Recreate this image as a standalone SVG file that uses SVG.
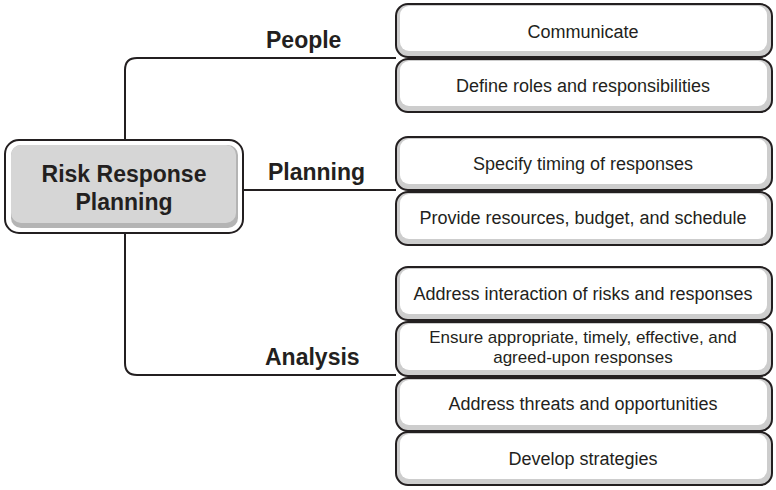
<svg xmlns="http://www.w3.org/2000/svg" width="776" height="490" viewBox="0 0 776 490">
<style>
.bg{fill:#ffffff}
.conn{fill:none;stroke:#231f20;stroke-width:2}
.bo{fill:#cdcdcd;stroke:#231f20;stroke-width:2}
.bi{fill:#ffffff}
.t{font-family:"Liberation Sans",Arial,sans-serif;font-size:18px;fill:#231f20;text-anchor:middle}
.t2{font-family:"Liberation Sans",Arial,sans-serif;font-size:17px;fill:#231f20;text-anchor:middle}
.lbl{font-family:"Liberation Sans",Arial,sans-serif;font-size:23px;font-weight:bold;fill:#231f20}
.ct{font-family:"Liberation Sans",Arial,sans-serif;font-size:23px;font-weight:bold;fill:#231f20;text-anchor:middle}
</style>
<rect class="bg" x="0" y="0" width="776" height="490"/>
<g id="connectors">
<path class="conn" d="M125,140 V70 Q125,58 137,58 H396"/>
<path class="conn" d="M243,190 H396"/>
<path class="conn" d="M125,233 V363 Q125,375 137,375 H396"/>
</g>
<g id="labels">
<text class="lbl" x="266" y="48">People</text>
<text class="lbl" x="268" y="180">Planning</text>
<text class="lbl" x="265" y="365">Analysis</text>
</g>
<g id="center">
<rect x="5" y="140" width="238" height="93" rx="14" fill="#ffffff" stroke="#231f20" stroke-width="2"/>
<rect x="11" y="145" width="227" height="83" rx="10" fill="#b4b4b4"/>
<rect x="11" y="145" width="225" height="78" rx="10" fill="#d6d6d6"/>
<text class="ct" x="124" y="182">Risk Response</text>
<text class="ct" x="124" y="210">Planning</text>
</g>
<g id="n1">
<rect class="bo" x="396" y="4" width="376" height="53" rx="12"/>
<rect class="bi" x="400" y="6" width="367" height="45" rx="9"/>
<text class="t" x="583" y="38">Communicate</text>
</g>
<g id="n2">
<rect class="bo" x="396" y="59" width="376" height="53" rx="12"/>
<rect class="bi" x="400" y="61" width="367" height="45" rx="9"/>
<text class="t" x="583" y="92">Define roles and responsibilities</text>
</g>
<g id="n3">
<rect class="bo" x="396" y="137" width="376" height="53" rx="12"/>
<rect class="bi" x="400" y="139" width="367" height="45" rx="9"/>
<text class="t" x="583" y="170">Specify timing of responses</text>
</g>
<g id="n4">
<rect class="bo" x="396" y="192" width="376" height="53" rx="12"/>
<rect class="bi" x="400" y="194" width="367" height="45" rx="9"/>
<text class="t" x="583" y="224">Provide resources, budget, and schedule</text>
</g>
<g id="n5">
<rect class="bo" x="396" y="267" width="376" height="53" rx="12"/>
<rect class="bi" x="400" y="269" width="367" height="45" rx="9"/>
<text class="t" x="583" y="300">Address interaction of risks and responses</text>
</g>
<g id="n6">
<rect class="bo" x="396" y="322" width="376" height="54" rx="12"/>
<rect class="bi" x="400" y="324" width="367" height="46" rx="9"/>
<text class="t2" x="583" y="343">Ensure appropriate, timely, effective, and</text>
<text class="t2" x="583" y="363">agreed-upon responses</text>
</g>
<g id="n7">
<rect class="bo" x="396" y="378" width="376" height="53" rx="12"/>
<rect class="bi" x="400" y="380" width="367" height="45" rx="9"/>
<text class="t" x="583" y="410">Address threats and opportunities</text>
</g>
<g id="n8">
<rect class="bo" x="396" y="432" width="376" height="53" rx="12"/>
<rect class="bi" x="400" y="434" width="367" height="45" rx="9"/>
<text class="t" x="583" y="465">Develop strategies</text>
</g>
</svg>
